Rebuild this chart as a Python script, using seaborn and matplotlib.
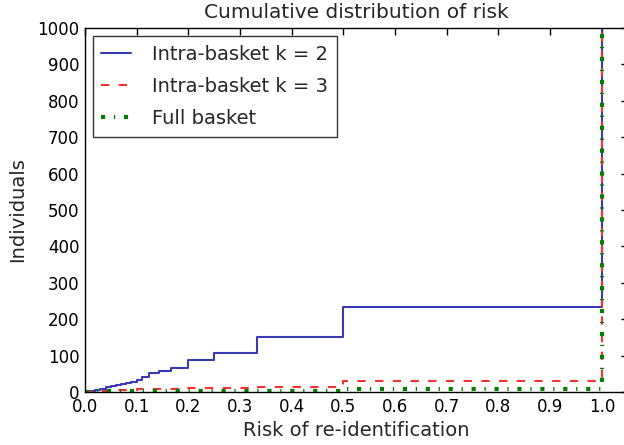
import numpy as np
import pandas as pd
import matplotlib
matplotlib.use("Agg")
import matplotlib.pyplot as plt
import seaborn as sns

# Data (cumulative count of individuals with risk <= x)
k2_risk = [0.0, 0.01, 0.02, 0.03, 0.04, 0.05, 0.06, 0.07, 0.08, 0.09, 0.1,
           0.111, 0.125, 0.143, 0.167, 0.2, 0.25, 0.333, 0.5, 1.0]
k2_count = [0, 2, 5, 9, 13, 16, 19, 22, 25, 28, 33,
            42, 51, 58, 65, 87, 108, 152, 233, 5000]

k3_risk = [0.0, 0.02, 0.05, 0.1, 0.2, 0.333, 0.5, 1.0]
k3_count = [0, 3, 6, 8, 10, 14, 30, 5000]

full_risk = [0.0, 0.02, 0.1, 0.5, 1.0]
full_count = [0, 2, 4, 8, 5000]

series_names = ["Intra-basket k = 2", "Intra-basket k = 3", "Full basket"]
title = "Cumulative distribution of risk"
x_label = "Risk of re-identification"
y_label = "Individuals"
x_ticks = [0.0, 0.1, 0.2, 0.3, 0.4, 0.5, 0.6, 0.7, 0.8, 0.9, 1.0]
y_ticks = [0, 100, 200, 300, 400, 500, 600, 700, 800, 900, 1000]

sns.set_theme(style="white")
plt.rcParams["font.family"] = ["DejaVu Sans"]
plt.rcParams["xtick.direction"] = "in"
plt.rcParams["ytick.direction"] = "in"
plt.rcParams["xtick.top"] = True
plt.rcParams["ytick.right"] = True

fig = plt.figure(figsize=(6.24, 4.45), dpi=100)
ax = fig.add_axes([0.136, 0.119, 0.870, 0.818])

df2 = pd.DataFrame({"risk": k2_risk, "count": k2_count})
df3 = pd.DataFrame({"risk": k3_risk, "count": k3_count})
dff = pd.DataFrame({"risk": full_risk, "count": full_count})

sns.lineplot(data=df2, x="risk", y="count", ax=ax, color="#3a3ab4",
             linewidth=1.5, drawstyle="steps-post", label=series_names[0])
sns.lineplot(data=df3, x="risk", y="count", ax=ax, color="#ff3030",
             linewidth=1.5, linestyle=(0, (4, 4.5)), drawstyle="steps-post",
             label=series_names[1])
sns.lineplot(data=dff, x="risk", y="count", ax=ax, color="#008000",
             linewidth=3.0, linestyle=(0, (1.0, 2.1, 0.3, 2.1)),
             drawstyle="steps-post", label=series_names[2])

ax.set_xlim(0, 1.05)
ax.set_ylim(0, 1000)
ax.set_xticks(x_ticks)
ax.set_xticklabels([f"{t:.1f}" for t in x_ticks])
ax.set_yticks(y_ticks)
ax.tick_params(axis="both", which="both", labelsize=12, length=5, width=1,
               color="black", labelcolor="black", pad=4)
for s in ax.spines.values():
    s.set_color("black")
    s.set_linewidth(1.0)

ax.set_title(title, fontsize=14.5, pad=7)
ax.set_xlabel(x_label, fontsize=14, labelpad=4)
ax.set_ylabel(y_label, fontsize=14, labelpad=7)

leg = ax.legend(loc="upper left", fontsize=14, frameon=True, fancybox=False,
                borderaxespad=0.4, handlelength=1.5, handletextpad=1.1,
                borderpad=0.45, labelspacing=0.68)
leg.get_frame().set_edgecolor("black")
leg.get_frame().set_linewidth(1.0)

fig.savefig("out.png", dpi=100)
